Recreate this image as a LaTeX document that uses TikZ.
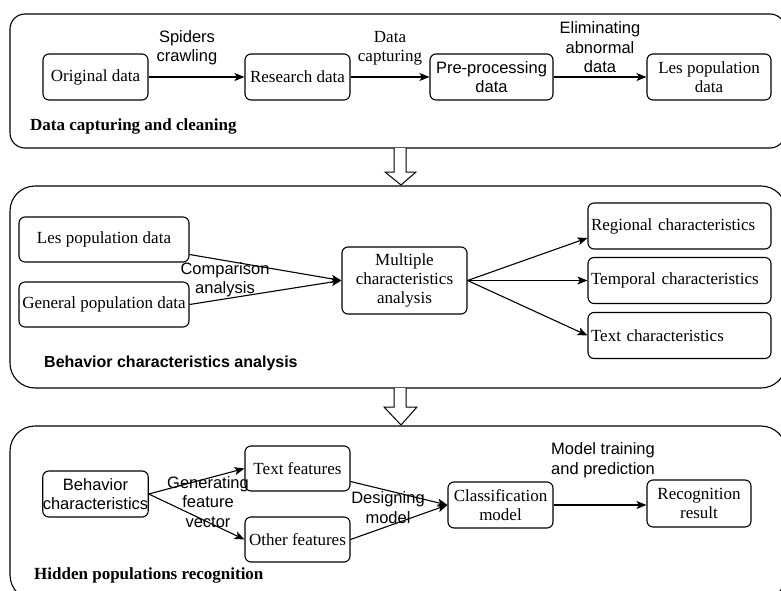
\documentclass[tikz,border=0pt]{standalone}
\usepackage{fontspec}
\setmainfont{Liberation Serif}
\setsansfont{Liberation Sans}
\usetikzlibrary{arrows.meta,calc}
\newcommand\myrm{\fontsize{17}{19}\selectfont\rmfamily}
\newcommand\mysf{\fontsize{16.5}{19.5}\selectfont\sffamily}
\newcommand\myrmb{\fontsize{17}{19}\selectfont\rmfamily\bfseries}
\newcommand\mysfb{\fontsize{16}{19}\selectfont\sffamily\bfseries}
\begin{document}
\begin{tikzpicture}[x=1pt,y=-1pt,
  box/.style={draw, rounded corners=6pt, line width=1.1pt, align=center, inner sep=0pt, font=\myrm},
  sbox/.style={box, font=\mysf},
  lbox/.style={draw, rounded corners=6pt, line width=1.1pt, align=left, inner ysep=0pt, inner xsep=3pt, text width=177pt, minimum height=46pt, font=\myrm},
  arr/.style={-{Stealth[length=10pt,width=8pt,inset=2.5pt]}, line width=1.1pt},
  panel/.style={draw, line width=1.1pt, fill=white},
  blk/.style={draw, line width=1pt, fill=white},
  lab/.style={align=center, inner sep=0pt, font=\mysf},
  rlab/.style={align=center, inner sep=0pt, font=\myrm}]
\useasboundingbox (0,0) rectangle (781,591);
\fill[white] (0,0) rectangle (781,591);
\clip (0,0) rectangle (781,591);

% panels
\draw[panel, rounded corners=15pt] (10,14) rectangle (785,148);
\draw[panel, rounded corners=25pt] (10,186) rectangle (786,388);
\draw[panel, rounded corners=25pt] (10,426) rectangle (786,600);

% block arrows
\draw[blk] (394,148) -- (394,172) -- (385,172) -- (401,185) -- (416,172) -- (406,172) -- (406,148);
\draw[blk] (394,388) -- (394,407) -- (384,407) -- (401,425) -- (417,407) -- (406,407) -- (406,388);

% panel 1
\node[box, minimum width=105pt, minimum height=46pt] (od) at (95.5,77) {Original data};
\node[box, minimum width=105pt, minimum height=46pt] (rd) at (297.5,77) {Research data};
\node[sbox, minimum width=123pt, minimum height=46pt] (pp) at (491.5,77) {Pre-processing\\data};
\node[box, minimum width=124pt, minimum height=46pt] (lp1) at (709,77) {Les population\\data};
\draw[arr] (od) -- (rd);
\draw[arr] (rd) -- (pp);
\draw[arr] (pp) -- (lp1);
\node[lab] (l1) at (187,47.5) {Spiders\\crawling};
\node[rlab] (l2) at (390,48) {Data\\capturing};
\node[lab] (l3) at (600,47.5) {Eliminating\\abnormal\\data};
\node[anchor=west, inner sep=0pt, font=\myrmb] (t1) at (30,126) {Data capturing and cleaning};

% panel 2
\node[box, minimum width=170pt, minimum height=45pt] (lp2) at (104,239.5) {Les population data};
\node[box, minimum width=170pt, minimum height=45pt] (gp) at (104,304.5) {General population data};
\node[box, minimum width=125pt, minimum height=67pt] (mc) at (404.5,280.5) {Multiple\\characteristics\\analysis};
\node[lbox] (rc) at (679.5,226) {Regional characteristics};
\node[lbox] (tc) at (679.5,280.5) {Temporal characteristics};
\node[lbox] (xc) at (679.5,335.5) {Text characteristics};
\draw[arr] ([yshift=-15pt]lp2.east) -- (mc.west);
\draw[arr] (gp.east) -- (mc.west);
\draw[arr] (mc.east) -- ([yshift=-12pt]rc.west);
\draw[arr] (mc.east) -- (tc.west);
\draw[arr] (mc.east) -- (xc.west);
\node[lab] (l4) at (225,279.5) {Comparison\\analysis};
\node[anchor=west, inner sep=0pt, font=\mysfb] (t2) at (44,363) {Behavior characteristics analysis};

% panel 3
\node[sbox, minimum width=105pt, minimum height=46pt] (bc) at (95.5,494) {Behavior\\characteristics};
\node[box, minimum width=105pt, minimum height=45pt] (tf) at (297.5,468.5) {Text features};
\node[box, minimum width=105pt, minimum height=45pt] (of) at (297.5,539.5) {Other features};
\node[box, minimum width=105pt, minimum height=46pt] (cm) at (500.5,505) {Classification\\model};
\node[box, minimum width=104pt, minimum height=47pt] (rr) at (699,503.5) {Recognition\\result};
\draw[arr] (bc.east) -- (tf.west);
\draw[arr] (bc.east) -- (of.west);
\draw[arr] ([yshift=-13pt]tf.east) -- (cm.west);
\draw[arr] (of.east) -- (cm.west);
\draw[arr] (cm.east) -- (cm.east -| rr.west);
\node[lab] (l5) at (208,502) {Generating\\feature\\vector};
\node[lab] (l6) at (388,507.5) {Designing\\model};
\node[lab] (l7) at (603,460) {Model training\\and prediction};
\node[anchor=west, inner sep=0pt, font=\myrmb] (t3) at (34,575) {Hidden populations recognition};
\end{tikzpicture}
\end{document}
